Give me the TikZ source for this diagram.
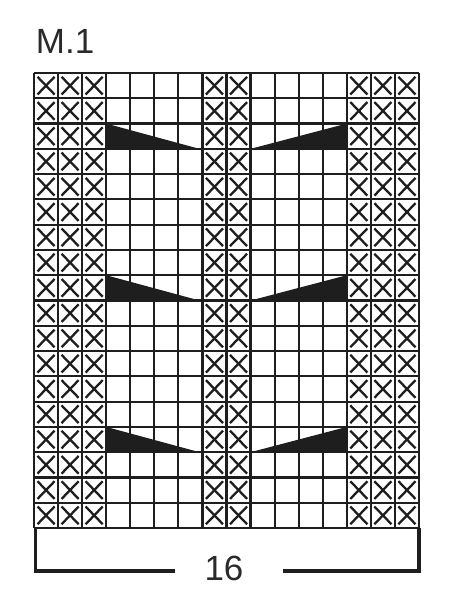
\documentclass[tikz,border=0pt]{standalone}
\usepackage{fontspec}
\setmainfont{Liberation Sans}
\definecolor{ink}{HTML}{1E1E1E}
\definecolor{txt}{HTML}{2A2A2A}
\tikzset{
  gridline/.style={draw=ink, line width=2.2pt},
  xmark/.style={draw=ink, line width=2.3pt},
  wedge/.style={fill=ink, draw=none},
  bracket/.style={draw=ink, line width=3.4pt},
  label/.style={text=txt, inner sep=0pt, font=\fontsize{35}{40}\selectfont}
}
\begin{document}
\begin{tikzpicture}[x=1pt,y=-1pt]
\useasboundingbox (0,0) rectangle (460,600);
\def\xo{34}\def\yo{73}\def\cw{24.0625}\def\rh{25.2778}
% X marks
\foreach \c in {0,1,2,7,8,13,14,15}{
  \foreach \r in {0,...,17}{
    \draw[xmark] ({\xo+\c*\cw+3.5},{\yo+\r*\rh+3.8}) -- ({\xo+(\c+1)*\cw-3.5},{\yo+(\r+1)*\rh-3.8});
    \draw[xmark] ({\xo+\c*\cw+3.5},{\yo+(\r+1)*\rh-3.8}) -- ({\xo+(\c+1)*\cw-3.5},{\yo+\r*\rh+3.8});
  }
}
% wedges
\foreach \r in {2,8,14}{
  \fill[wedge] ({\xo+3*\cw},{\yo+\r*\rh}) -- ({\xo+3*\cw},{\yo+(\r+1)*\rh}) -- ({\xo+7*\cw-3},{\yo+(\r+1)*\rh}) -- cycle;
  \fill[wedge] ({\xo+9*\cw},{\yo+(\r+1)*\rh}) -- ({\xo+13*\cw},{\yo+(\r+1)*\rh}) -- ({\xo+13*\cw},{\yo+\r*\rh}) -- cycle;
}
% grid lines
\foreach \i in {0,...,16}{
  \draw[gridline] ({\xo+\i*\cw},\yo) -- ({\xo+\i*\cw},{\yo+18*\rh});
}
\foreach \j in {0,...,18}{
  \draw[gridline] (\xo,{\yo+\j*\rh}) -- ({\xo+16*\cw},{\yo+\j*\rh});
}
% bracket
\coordinate (bl) at (35.5,528);
\coordinate (blc) at (35.5,571);
\coordinate (bm1) at (175,571);
\coordinate (bm2) at (283,571);
\coordinate (brc) at (419,571);
\coordinate (br) at (419,528);
\draw[bracket] (bl) -- (blc) -- (bm1);
\draw[bracket] (bm2) -- (brc) -- (br);
% labels
\node[label, anchor=base west] (title) at (35.7,53.3) {M.1};
\node[label, anchor=base] (width) at (224,580) {16};
\end{tikzpicture}
\end{document}
